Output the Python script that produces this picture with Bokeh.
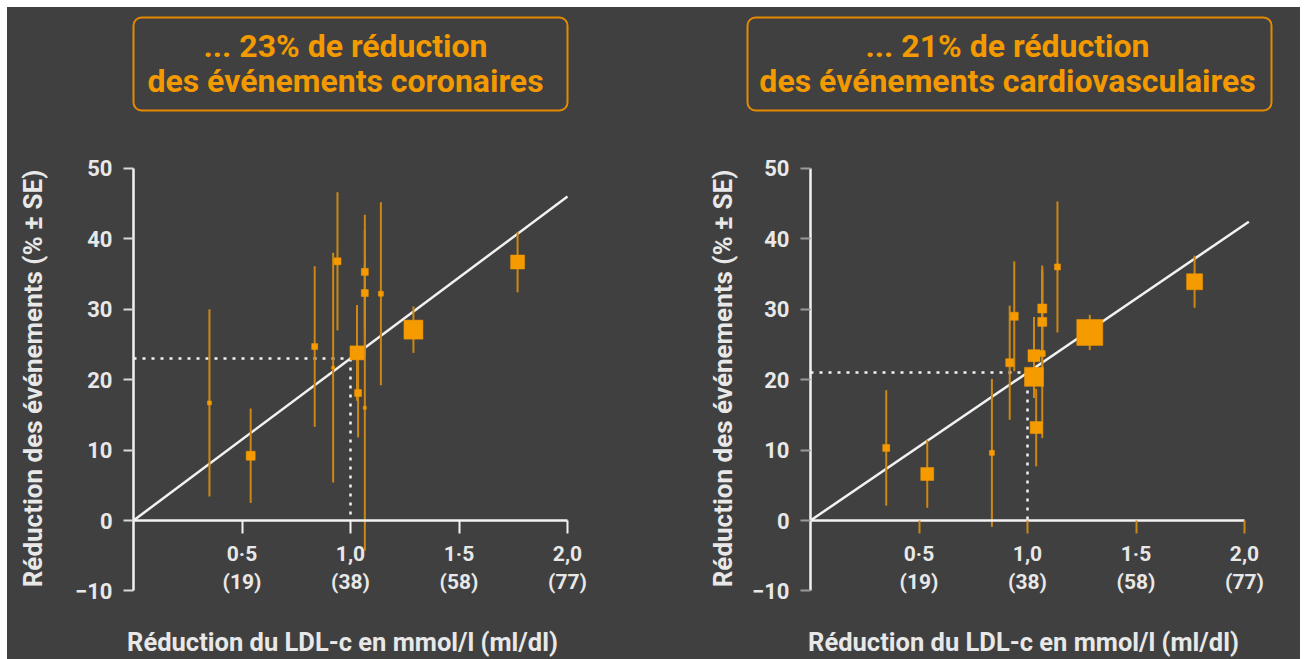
import math
from bokeh.plotting import figure
from bokeh.models import Range1d, FixedTicker
from bokeh.layouts import row
from bokeh.core.properties import value
from bokeh.embed import file_html
from bokeh.resources import INLINE

# ---------------- data ----------------
tick_values = [0.5, 1.0, 1.5, 2.0]
tick_mmol = ["0·5", "1,0", "1·5", "2,0"]
tick_mgdl = ["(19)", "(38)", "(58)", "(77)"]
y_ticks = [-10, 0, 10, 20, 30, 40, 50]
y_tick_labels = ["−10", "0", "10", "20", "30", "40", "50"]

# Coronary events (left panel)
cor_ldl = [0.35, 0.54, 0.835, 0.92, 0.94, 1.03, 1.035, 1.066, 1.066, 1.066, 1.14, 1.29, 1.77]
cor_red = [16.7, 9.2, 24.7, 21.7, 36.8, 23.8, 18.1, 35.3, 32.3, 16.0, 32.2, 27.1, 36.7]
cor_se = [13.3, 6.7, 11.4, 16.3, 9.8, 6.8, 6.3, 8.1, 9.0, 20.3, 13.0, 3.3, 4.3]
cor_weight = [4, 9, 6, 3, 7, 14, 7, 7, 7, 3, 5, 19, 14]
cor_slope = 23          # % reduction per mmol/l
cor_fit_end = 2.0
cor_title = ["... 23% de réduction", "des événements coronaires"]

# Cardiovascular events (right panel)
cv_ldl = [0.349, 0.538, 0.836, 0.918, 0.939, 1.03, 1.03, 1.04, 1.068, 1.068, 1.068, 1.138, 1.287, 1.77]
cv_red = [10.3, 6.6, 9.6, 22.4, 29.0, 23.4, 20.4, 13.2, 30.1, 28.2, 23.7, 36.0, 26.7, 33.9]
cv_se = [8.2, 4.8, 10.5, 8.1, 7.8, 5.5, 3.0, 5.5, 6.1, 7.0, 12.0, 9.3, 2.5, 3.7]
cv_weight = [7, 13, 5, 8, 8, 12, 19, 12, 9, 9, 6, 6, 26, 16]
cv_slope = 21
cv_fit_end = 2.02
cv_title = ["... 21% de réduction", "des événements cardiovasculaires"]

x_title = "Réduction du LDL-c en mmol/l (ml/dl)"
y_title = "Réduction des événements (% ± SE)"

# ---------------- style / layout ----------------
BG = "#404040"
ORANGE = "#f59b00"
BAR = "#cd8714"
TITLE_OR = "#f39a00"
BOX_OR = "#e88a00"
WHITE = "#f2f2f2"
TXT = "#e8e8e8"
FONT = "Roboto"

PAGE_TOP = 7          # page pixel of the top of both figures
PAGE_BOTTOM = 659
PX_PER_X = 217.0      # pixels per mmol/l
PX_PER_Y = 7.043      # pixels per % point
Y0_PAGE = 520         # page row of y = 0
HEIGHT = PAGE_BOTTOM - PAGE_TOP


def make_panel(ldl, red, se, weight, slope, fit_end, title_lines,
               fig_left, fig_right, x0_page, box, title_cx, ytitle_cx, xtitle_cx,
               xtick_color, ytick_color):
    # helpers turning page pixels into this panel's data coordinates
    def dx(px):
        return (px - x0_page) / PX_PER_X

    def dy(py):
        return (Y0_PAGE - py) / PX_PER_Y

    p = figure(width=fig_right - fig_left, height=HEIGHT,
               x_range=Range1d(dx(fig_left), dx(fig_right)),
               y_range=Range1d(dy(PAGE_BOTTOM), dy(PAGE_TOP)),
               output_backend="svg", toolbar_location=None, min_border=0,
               background_fill_color=BG, border_fill_color=BG,
               outline_line_color=None)
    p.grid.visible = False

    # x axis through y = 0
    xa = p.xaxis[0]
    xa.fixed_location = 0
    xa.bounds = (0, 2.0)
    xa.ticker = FixedTicker(ticks=tick_values)
    xa.major_label_overrides = {v: f"{a}\n{b}" for v, a, b in zip(tick_values, tick_mmol, tick_mgdl)}
    xa.major_tick_in = 0
    xa.major_tick_out = 13
    xa.minor_tick_line_color = None
    xa.axis_line_color = WHITE
    xa.axis_line_width = 2.5
    xa.major_tick_line_color = xtick_color
    xa.major_tick_line_width = 2
    xa.major_label_text_font = FONT
    xa.major_label_text_font_style = "bold"
    xa.major_label_text_font_size = "21px"
    xa.major_label_text_color = TXT
    xa.major_label_standoff = 8

    # y axis through x = 0
    ya = p.yaxis[0]
    ya.fixed_location = 0
    ya.bounds = (-10, 50)
    ya.ticker = FixedTicker(ticks=y_ticks)
    ya.major_label_overrides = {float(v): s for v, s in zip(y_ticks, y_tick_labels)}
    ya.major_tick_in = 0
    ya.major_tick_out = 10
    ya.minor_tick_line_color = None
    ya.axis_line_color = WHITE
    ya.axis_line_width = 2.5
    ya.major_tick_line_color = ytick_color
    ya.major_tick_line_width = 2
    ya.major_label_text_font = FONT
    ya.major_label_text_font_style = "bold"
    ya.major_label_text_font_size = "22px"
    ya.major_label_text_color = TXT
    ya.major_label_standoff = 11

    # axis titles
    p.text(x=[dx(ytitle_cx)], y=[dy(378)], text=[y_title], angle=math.pi / 2,
           text_align="center", text_baseline="middle",
           text_font=value(FONT), text_font_style="bold", text_font_size="26px",
           text_color=TXT)
    p.text(x=[dx(xtitle_cx)], y=[dy(641)], text=[x_title],
           text_align="center", text_baseline="middle",
           text_font=value(FONT), text_font_style="bold", text_font_size="25.5px",
           text_color=TXT)

    # boxed panel title
    p.quad(left=[dx(box[0])], right=[dx(box[1])], top=[dy(17)], bottom=[dy(110)],
           fill_color=None, line_color=BOX_OR, line_width=2, border_radius=8)
    p.text(x=[dx(title_cx)] * 2, y=[dy(45), dy(80)], text=title_lines,
           text_align="center", text_baseline="middle",
           text_font=value(FONT), text_font_style="bold", text_font_size="32px",
           text_color=TITLE_OR)

    # dotted reference lines at 1 mmol/l
    p.line([0, 1.0], [slope, slope], line_color=WHITE, line_width=2.5, line_dash="3 6")
    p.line([1.0, 1.0], [slope, 0], line_color=WHITE, line_width=2.5, line_dash="3 6")
    # regression line
    p.line([0, fit_end], [0, slope * fit_end], line_color=WHITE, line_width=2.5)
    # error bars
    lo = [r - s for r, s in zip(red, se)]
    hi = [r + s for r, s in zip(red, se)]
    p.segment(x0=ldl, y0=lo, x1=ldl, y1=hi, line_color=BAR, line_width=2)
    # trials
    p.scatter(x=ldl, y=red, size=weight, marker="square",
              fill_color=ORANGE, line_color=ORANGE, line_width=0.5)
    return p


left = make_panel(cor_ldl, cor_red, cor_se, cor_weight, cor_slope, cor_fit_end, cor_title,
                  fig_left=7, fig_right=660, x0_page=133, box=(133, 567),
                  title_cx=345, ytitle_cx=32, xtitle_cx=342,
                  xtick_color=WHITE, ytick_color="#d8d8d8")
right = make_panel(cv_ldl, cv_red, cv_se, cv_weight, cv_slope, cv_fit_end, cv_title,
                   fig_left=660, fig_right=1300, x0_page=810, box=(747, 1271),
                   title_cx=1007, ytitle_cx=722, xtitle_cx=1023,
                   xtick_color=BAR, ytick_color="#9a9a9a")

layout = row(left, right, margin=(PAGE_TOP, 0, 0, 7),
             styles={"background-color": BG})
open("out.html", "w").write(file_html(layout, INLINE))
